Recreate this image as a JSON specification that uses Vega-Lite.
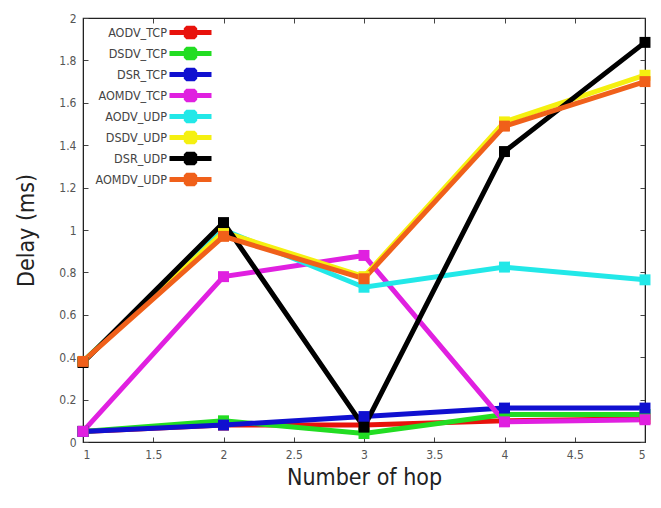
{
  "$schema": "https://vega.github.io/schema/vega-lite/v6.json",
  "width": 562,
  "height": 424,
  "autosize": "none",
  "padding": {"left": 83, "top": 18, "right": 16, "bottom": 66},
  "background": "white",
  "config": {
    "view": {"stroke": "#222", "strokeWidth": 1.2},
    "font": "Liberation Sans Narrow, DejaVu Sans Condensed, Roboto Condensed, Liberation Sans, sans-serif",
    "axis": {
      "grid": false,
      "domainColor": "#222",
      "tickColor": "#444",
      "labelColor": "#555",
      "labelFont": "Liberation Sans Narrow, DejaVu Sans Condensed, Roboto Condensed, Liberation Sans, sans-serif",
      "titleFont": "Liberation Sans Narrow, DejaVu Sans Condensed, Roboto Condensed, Liberation Sans, sans-serif",
      "titleColor": "#222",
      "titleFontWeight": "normal"
    }
  },
  "data": {
    "values": [
      {"hop": 1, "delay": 0.05, "protocol": "AODV_TCP"},
      {"hop": 2, "delay": 0.08, "protocol": "AODV_TCP"},
      {"hop": 3, "delay": 0.08, "protocol": "AODV_TCP"},
      {"hop": 4, "delay": 0.10, "protocol": "AODV_TCP"},
      {"hop": 5, "delay": 0.11, "protocol": "AODV_TCP"},
      {"hop": 1, "delay": 0.05, "protocol": "DSDV_TCP"},
      {"hop": 2, "delay": 0.10, "protocol": "DSDV_TCP"},
      {"hop": 3, "delay": 0.04, "protocol": "DSDV_TCP"},
      {"hop": 4, "delay": 0.13, "protocol": "DSDV_TCP"},
      {"hop": 5, "delay": 0.13, "protocol": "DSDV_TCP"},
      {"hop": 1, "delay": 0.05, "protocol": "DSR_TCP"},
      {"hop": 2, "delay": 0.08, "protocol": "DSR_TCP"},
      {"hop": 3, "delay": 0.12, "protocol": "DSR_TCP"},
      {"hop": 4, "delay": 0.16, "protocol": "DSR_TCP"},
      {"hop": 5, "delay": 0.16, "protocol": "DSR_TCP"},
      {"hop": 1, "delay": 0.05, "protocol": "AOMDV_TCP"},
      {"hop": 2, "delay": 0.78, "protocol": "AOMDV_TCP"},
      {"hop": 3, "delay": 0.88, "protocol": "AOMDV_TCP"},
      {"hop": 4, "delay": 0.095, "protocol": "AOMDV_TCP"},
      {"hop": 5, "delay": 0.105, "protocol": "AOMDV_TCP"},
      {"hop": 1, "delay": 0.38, "protocol": "AODV_UDP"},
      {"hop": 2, "delay": 1.0, "protocol": "AODV_UDP"},
      {"hop": 3, "delay": 0.73, "protocol": "AODV_UDP"},
      {"hop": 4, "delay": 0.825, "protocol": "AODV_UDP"},
      {"hop": 5, "delay": 0.765, "protocol": "AODV_UDP"},
      {"hop": 1, "delay": 0.38, "protocol": "DSDV_UDP"},
      {"hop": 2, "delay": 0.99, "protocol": "DSDV_UDP"},
      {"hop": 3, "delay": 0.78, "protocol": "DSDV_UDP"},
      {"hop": 4, "delay": 1.51, "protocol": "DSDV_UDP"},
      {"hop": 5, "delay": 1.73, "protocol": "DSDV_UDP"},
      {"hop": 1, "delay": 0.375, "protocol": "DSR_UDP"},
      {"hop": 2, "delay": 1.035, "protocol": "DSR_UDP"},
      {"hop": 3, "delay": 0.07, "protocol": "DSR_UDP"},
      {"hop": 4, "delay": 1.37, "protocol": "DSR_UDP"},
      {"hop": 5, "delay": 1.885, "protocol": "DSR_UDP"},
      {"hop": 1, "delay": 0.38, "protocol": "AOMDV_UDP"},
      {"hop": 2, "delay": 0.97, "protocol": "AOMDV_UDP"},
      {"hop": 3, "delay": 0.77, "protocol": "AOMDV_UDP"},
      {"hop": 4, "delay": 1.49, "protocol": "AOMDV_UDP"},
      {"hop": 5, "delay": 1.70, "protocol": "AOMDV_UDP"}
    ]
  },
  "resolve": {"axis": {"x": "independent", "y": "independent"}},
  "layer": [
    {
      "mark": {"type": "line", "strokeWidth": 5, "strokeJoin": "miter"},
      "encoding": {
        "x": {
          "field": "hop", "type": "quantitative",
          "scale": {"domain": [1, 5], "nice": false, "zero": false},
          "axis": {
            "orient": "bottom",
            "values": [1, 1.5, 2, 2.5, 3, 3.5, 4, 4.5, 5],
            "format": "~g",
            "tickSize": -5,
            "labelPadding": 12,
            "labelFontSize": 12,
            "title": "Number of hop",
            "titleFontSize": 23,
            "titlePadding": 6
          }
        },
        "y": {
          "field": "delay", "type": "quantitative",
          "scale": {"domain": [0, 2], "nice": false},
          "axis": {
            "orient": "left",
            "values": [0, 0.2, 0.4, 0.6, 0.8, 1, 1.2, 1.4, 1.6, 1.8, 2],
            "format": "~g",
            "tickSize": -5,
            "labelPadding": 12,
            "labelFontSize": 12,
            "title": "Delay (ms)",
            "titleFontSize": 23,
            "titlePadding": 20
          }
        },
        "color": {
          "field": "protocol", "type": "nominal", "sort": null,
          "scale": {
            "domain": ["AODV_TCP", "DSDV_TCP", "DSR_TCP", "AOMDV_TCP", "AODV_UDP", "DSDV_UDP", "DSR_UDP", "AOMDV_UDP"],
            "range": ["#e8120c", "#22dd22", "#1010d0", "#e020e0", "#22e8e8", "#f5f010", "#000000", "#f0601a"]
          },
          "legend": {
            "title": null,
            "orient": "none",
            "legendX": 99,
            "legendY": 6,
            "padding": 0,
            "rowPadding": 5,
            "symbolType": "M-3.5,0H3.5M-0.7,-0.7H0.7V0.7H-0.7Z",
            "symbolSize": 144,
            "symbolStrokeWidth": 5,
            "labelAlign": "right",
            "labelOffset": -32,
            "labelFontSize": 12.5,
            "labelColor": "#444",
            "labelFont": "Liberation Sans Narrow, DejaVu Sans Condensed, Roboto Condensed, Liberation Sans, sans-serif",
            "encode": {
              "symbols": {
                "update": {
                  "fill": {"scale": "color", "field": "value"},
                  "stroke": {"scale": "color", "field": "value"},
                  "strokeWidth": {"value": 5},
                  "strokeJoin": {"value": "bevel"},
                  "opacity": {"value": 1}
                }
              }
            }
          }
        }
      }
    },
    {
      "mark": {"type": "point", "shape": "square", "filled": true, "size": 120, "opacity": 1},
      "encoding": {
        "x": {
          "field": "hop", "type": "quantitative",
          "axis": {
            "orient": "top",
            "values": [1, 1.5, 2, 2.5, 3, 3.5, 4, 4.5, 5],
            "tickSize": -5,
            "labels": false,
            "title": null
          }
        },
        "y": {
          "field": "delay", "type": "quantitative",
          "axis": {
            "orient": "right",
            "values": [0, 0.2, 0.4, 0.6, 0.8, 1, 1.2, 1.4, 1.6, 1.8, 2],
            "tickSize": -5,
            "labels": false,
            "title": null
          }
        },
        "color": {"field": "protocol", "type": "nominal", "sort": null}
      }
    }
  ]
}
